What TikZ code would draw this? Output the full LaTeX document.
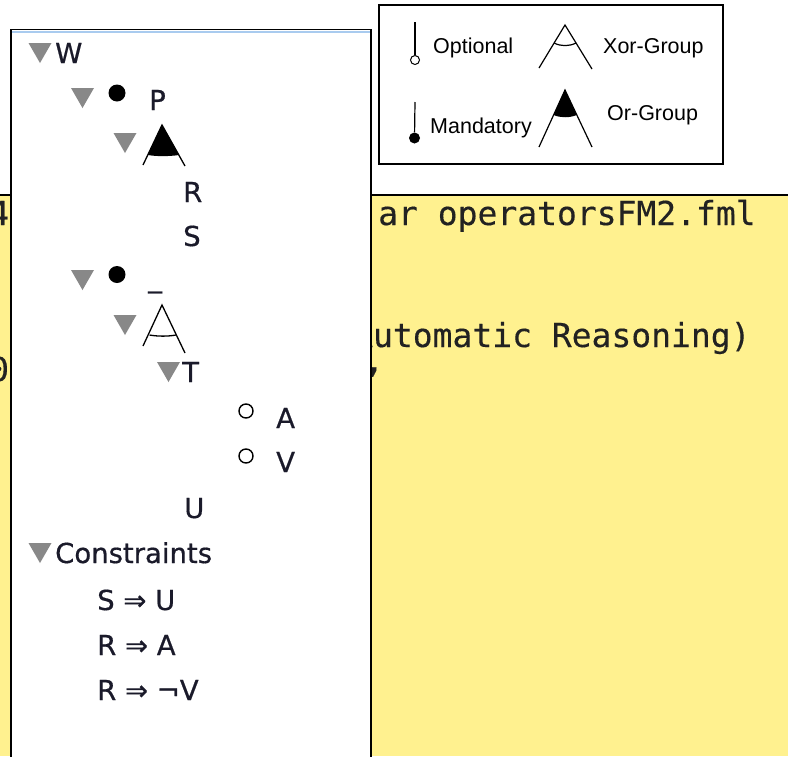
\documentclass[tikz,border=0pt]{standalone}
\usepackage{fontspec}
\newfontfamily\treefont[FakeBold=0.6]{DejaVu Sans}
\newfontfamily\legfont{Liberation Sans}
\newfontfamily\codefont[FakeBold=0.3]{DejaVu Sans Mono}
\definecolor{paper}{HTML}{FFF18F}
\definecolor{trigray}{HTML}{888888}
\definecolor{panelblue}{HTML}{A9CBEF}
\definecolor{codeink}{HTML}{222222}
\definecolor{treeink}{HTML}{1A1A2A}
\begin{document}
\begin{tikzpicture}[x=1pt,y=-1pt,
  tlabel/.style={font=\treefont\fontsize{27.5}{32}\selectfont, text=treeink, inner sep=0, anchor=base west},
  legtext/.style={font=\legfont\fontsize{21.5}{26}\selectfont, inner sep=0, anchor=base west},
  codetext/.style={font=\codefont\fontsize{33}{40}\selectfont, inner sep=0, anchor=base west, text=codeink},
  mandot/.style={circle, fill=black, inner sep=0, minimum size=17pt},
  optdot/.style={circle, draw=black, line width=1.4pt, fill=white, inner sep=0, minimum size=14pt},
  glyphline/.style={line width=1.3pt},
  legline/.style={line width=1.2pt},
  gtri/.pic={\fill[trigray] (-11.5,-10) -- (11.5,-10) -- (0,10) -- cycle;},
  treeor/.pic={\fill (0,0) -- (-14.25,30) .. controls (-5,31.5) and (6,31.5) .. (17.25,30) -- cycle;
               \draw[glyphline] (-19,40) -- (0,0) -- (23,41);},
  treexor/.pic={\draw[glyphline] (-19,41) -- (0,0) -- (23,48);
                \draw[glyphline] (-12.5,30) .. controls (-4,31.5) and (6,31.5) .. (14,30);},
  legor/.pic={\fill (0,0) -- (-11.4,25) .. controls (-4,28) and (4,28) .. (11.8,25) -- cycle;
              \draw[legline] (-26,57) -- (0,0) -- (27,57);},
  legxor/.pic={\draw[legline] (-26,43) -- (0,0) -- (27,44);
               \draw[legline] (-10.9,18) .. controls (-4,21.5) and (4,21.5) .. (11,18);}
]
\useasboundingbox (0,0) rectangle (788,756);
\fill[white] (0,0) rectangle (788,756);
% yellow editor area
\fill[paper] (0,195) rectangle (788,756);
\draw[line width=1.6pt] (0,195) -- (788,195);
\node[codetext] (c1) at (378,225) {ar operatorsFM2.fml};
\node[codetext] (c2) at (353,347) {Automatic Reasoning)};
\node[codetext] (c3) at (-11,225) {4};
\node[codetext] (c4) at (-11,381) {0};
\node[codetext, anchor=center] (c5) at (374,372) {,};
% tree panel
\filldraw[fill=white, draw=black, line width=1.6pt] (11,29.5) rectangle (371,770);
\draw[panelblue, line width=1.5pt] (12,31.8) -- (370,31.8);
% root W
\pic at (40,53) {gtri};
\node[tlabel] (W) at (55,63) {W};
% P row
\pic at (82.5,98) {gtri};
\node[mandot] (dP) at (117,93) {};
\node[tlabel] (P) at (149,110) {P};
\pic at (125,143) {gtri};
\pic at (162,125) {treeor};
\node[tlabel] (R) at (183,202) {R};
\node[tlabel] (S) at (183,246) {S};
% underscore row
\pic at (82.5,280) {gtri};
\node[mandot] (dU) at (117,274.5) {};
\node[tlabel] (us) at (148,287) {\_};
\pic at (125,325) {gtri};
\pic at (162,305) {treexor};
\pic at (168.5,372) {gtri};
\node[tlabel] (T) at (182,382) {T};
\node[optdot] (oA) at (246,411) {};
\node[tlabel] (A) at (276,428) {A};
\node[optdot] (oV) at (246,456) {};
\node[tlabel] (V) at (276,472) {V};
\node[tlabel] (U) at (184,518) {U};
% constraints
\pic at (40,553) {gtri};
\node[tlabel] (Con) at (55,563) {Constraints};
\node[tlabel] (k1) at (97,610) {S ⇒ U};
\node[tlabel] (k2) at (97,655) {R ⇒ A};
\node[tlabel] (k3) at (97,700) {R ⇒ ¬V};
% legend
\filldraw[fill=white, draw=black, line width=1.8pt] (379,5) rectangle (723,164);
\coordinate (optTop) at (415,22);
\node[circle, draw=black, line width=1pt, fill=white, inner sep=0, minimum size=9pt] (optC) at (415,60) {};
\draw[legline] (optTop) -- (optC);
\node[legtext] (lo) at (433,53) {Optional};
\coordinate (manTop) at (415,102);
\node[circle, fill=black, inner sep=0, minimum size=11pt] (manC) at (414.5,138) {};
\draw[legline] (manTop) -- (manC);
\node[legtext] (lm) at (430,133) {Mandatory};
\pic at (565,25) {legxor};
\node[legtext] (lx) at (603,53) {Xor-Group};
\pic at (565,90) {legor};
\node[legtext] (lor) at (607,120) {Or-Group};
\end{tikzpicture}
\end{document}
